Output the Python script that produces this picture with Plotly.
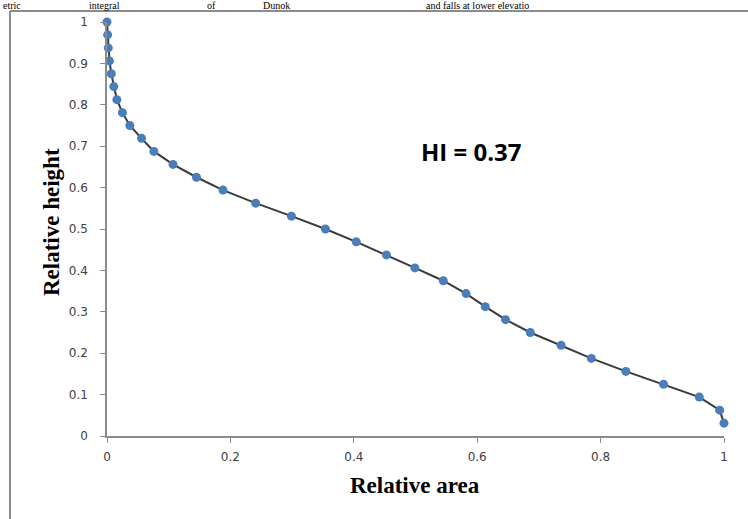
import plotly.graph_objects as go

relative_area = [0.000, 0.001, 0.002, 0.004, 0.007, 0.011, 0.016, 0.025, 0.037, 0.056,
                 0.076, 0.107, 0.145, 0.188, 0.241, 0.299, 0.354, 0.404, 0.453, 0.499,
                 0.545, 0.582, 0.613, 0.646, 0.686, 0.736, 0.785, 0.841, 0.902, 0.960,
                 0.993, 1.000]
relative_height = [1.0, 0.969, 0.9375, 0.906, 0.875, 0.844, 0.8125, 0.781, 0.75, 0.719,
                   0.6875, 0.656, 0.625, 0.594, 0.5625, 0.531, 0.5, 0.469, 0.4375, 0.406,
                   0.375, 0.344, 0.3125, 0.281, 0.25, 0.219, 0.1875, 0.156, 0.125, 0.094,
                   0.0625, 0.031]
x_ticks = [0, 0.2, 0.4, 0.6, 0.8, 1]
y_ticks = [0, 0.1, 0.2, 0.3, 0.4, 0.5, 0.6, 0.7, 0.8, 0.9, 1]
x_title = "Relative area"
y_title = "Relative height"
hi_label = "HI = 0.37"
top_words = ["etric", "integral", "of", "Dunok", "and falls at lower elevatio"]
top_word_px = [2, 88, 206, 262, 425]

W, H = 748, 519
L, R, T, B = 107, 24, 22, 83
pw = W - L - R
ph = H - T - B

def px_x(px):
    return (px - L) / pw

def px_y(py):
    return (H - B - py) / ph

fig = go.Figure()
fig.add_trace(go.Scatter(
    x=relative_area, y=relative_height, mode="lines+markers",
    line=dict(color="#3a3a3a", width=2),
    marker=dict(color="#4a7ebb", size=9),
    cliponaxis=False, showlegend=False, hoverinfo="x+y"))

axis_common = dict(showgrid=False, zeroline=False, showline=True, linecolor="#8c8c8c",
                   linewidth=1.5, ticks="outside", ticklen=5, tickcolor="#8c8c8c",
                   tickfont=dict(family="DejaVu Sans", size=12, color="#404040"))

fig.update_xaxes(range=[0, 1], tickvals=x_ticks, ticktext=[f"{v:g}" for v in x_ticks],
                 ticklabelstandoff=4, **axis_common)
fig.update_yaxes(range=[0, 1], tickvals=y_ticks, ticktext=[f"{v:g}" for v in y_ticks],
                 ticklabelstandoff=10, **axis_common)

serif = "Liberation Serif, Times New Roman"
annotations = [
    dict(x=px_x(471), y=px_y(152), xref="paper", yref="paper", text="<b>" + hi_label + "</b>",
         showarrow=False, xanchor="center", yanchor="middle",
         font=dict(family="Open Sans, Liberation Sans", size=24, color="black")),
    dict(x=px_x(415), y=px_y(485), xref="paper", yref="paper", text="<b>" + x_title + "</b>",
         showarrow=False, xanchor="center", yanchor="middle",
         font=dict(family=serif, size=23, color="black")),
    dict(x=px_x(51), y=px_y(222), xref="paper", yref="paper", text="<b>" + y_title + "</b>",
         showarrow=False, textangle=-90, xanchor="center", yanchor="middle",
         font=dict(family=serif, size=23, color="black")),
]
for word, px in zip(top_words, top_word_px):
    annotations.append(dict(x=px_x(px), y=px_y(-1), xref="paper", yref="paper",
                            xanchor="left", yanchor="top", text=word, showarrow=False,
                            borderpad=0,
                            font=dict(family=serif, size=10, color="black")))

shapes = [
    dict(type="line", xref="paper", yref="paper", x0=px_x(10), x1=px_x(760),
         y0=px_y(11), y1=px_y(11), line=dict(color="#8c8c8c", width=2)),
    dict(type="line", xref="paper", yref="paper", x0=px_x(10), x1=px_x(10),
         y0=px_y(11), y1=px_y(530), line=dict(color="#8c8c8c", width=2)),
]

fig.update_layout(width=W, height=H, margin=dict(l=L, r=R, t=T, b=B, autoexpand=False),
                  paper_bgcolor="white", plot_bgcolor="white",
                  annotations=annotations, shapes=shapes)
fig.write_html("out.html", config={"displayModeBar": False},
               post_script="document.body.style.margin='0';document.body.style.overflow='hidden';")
